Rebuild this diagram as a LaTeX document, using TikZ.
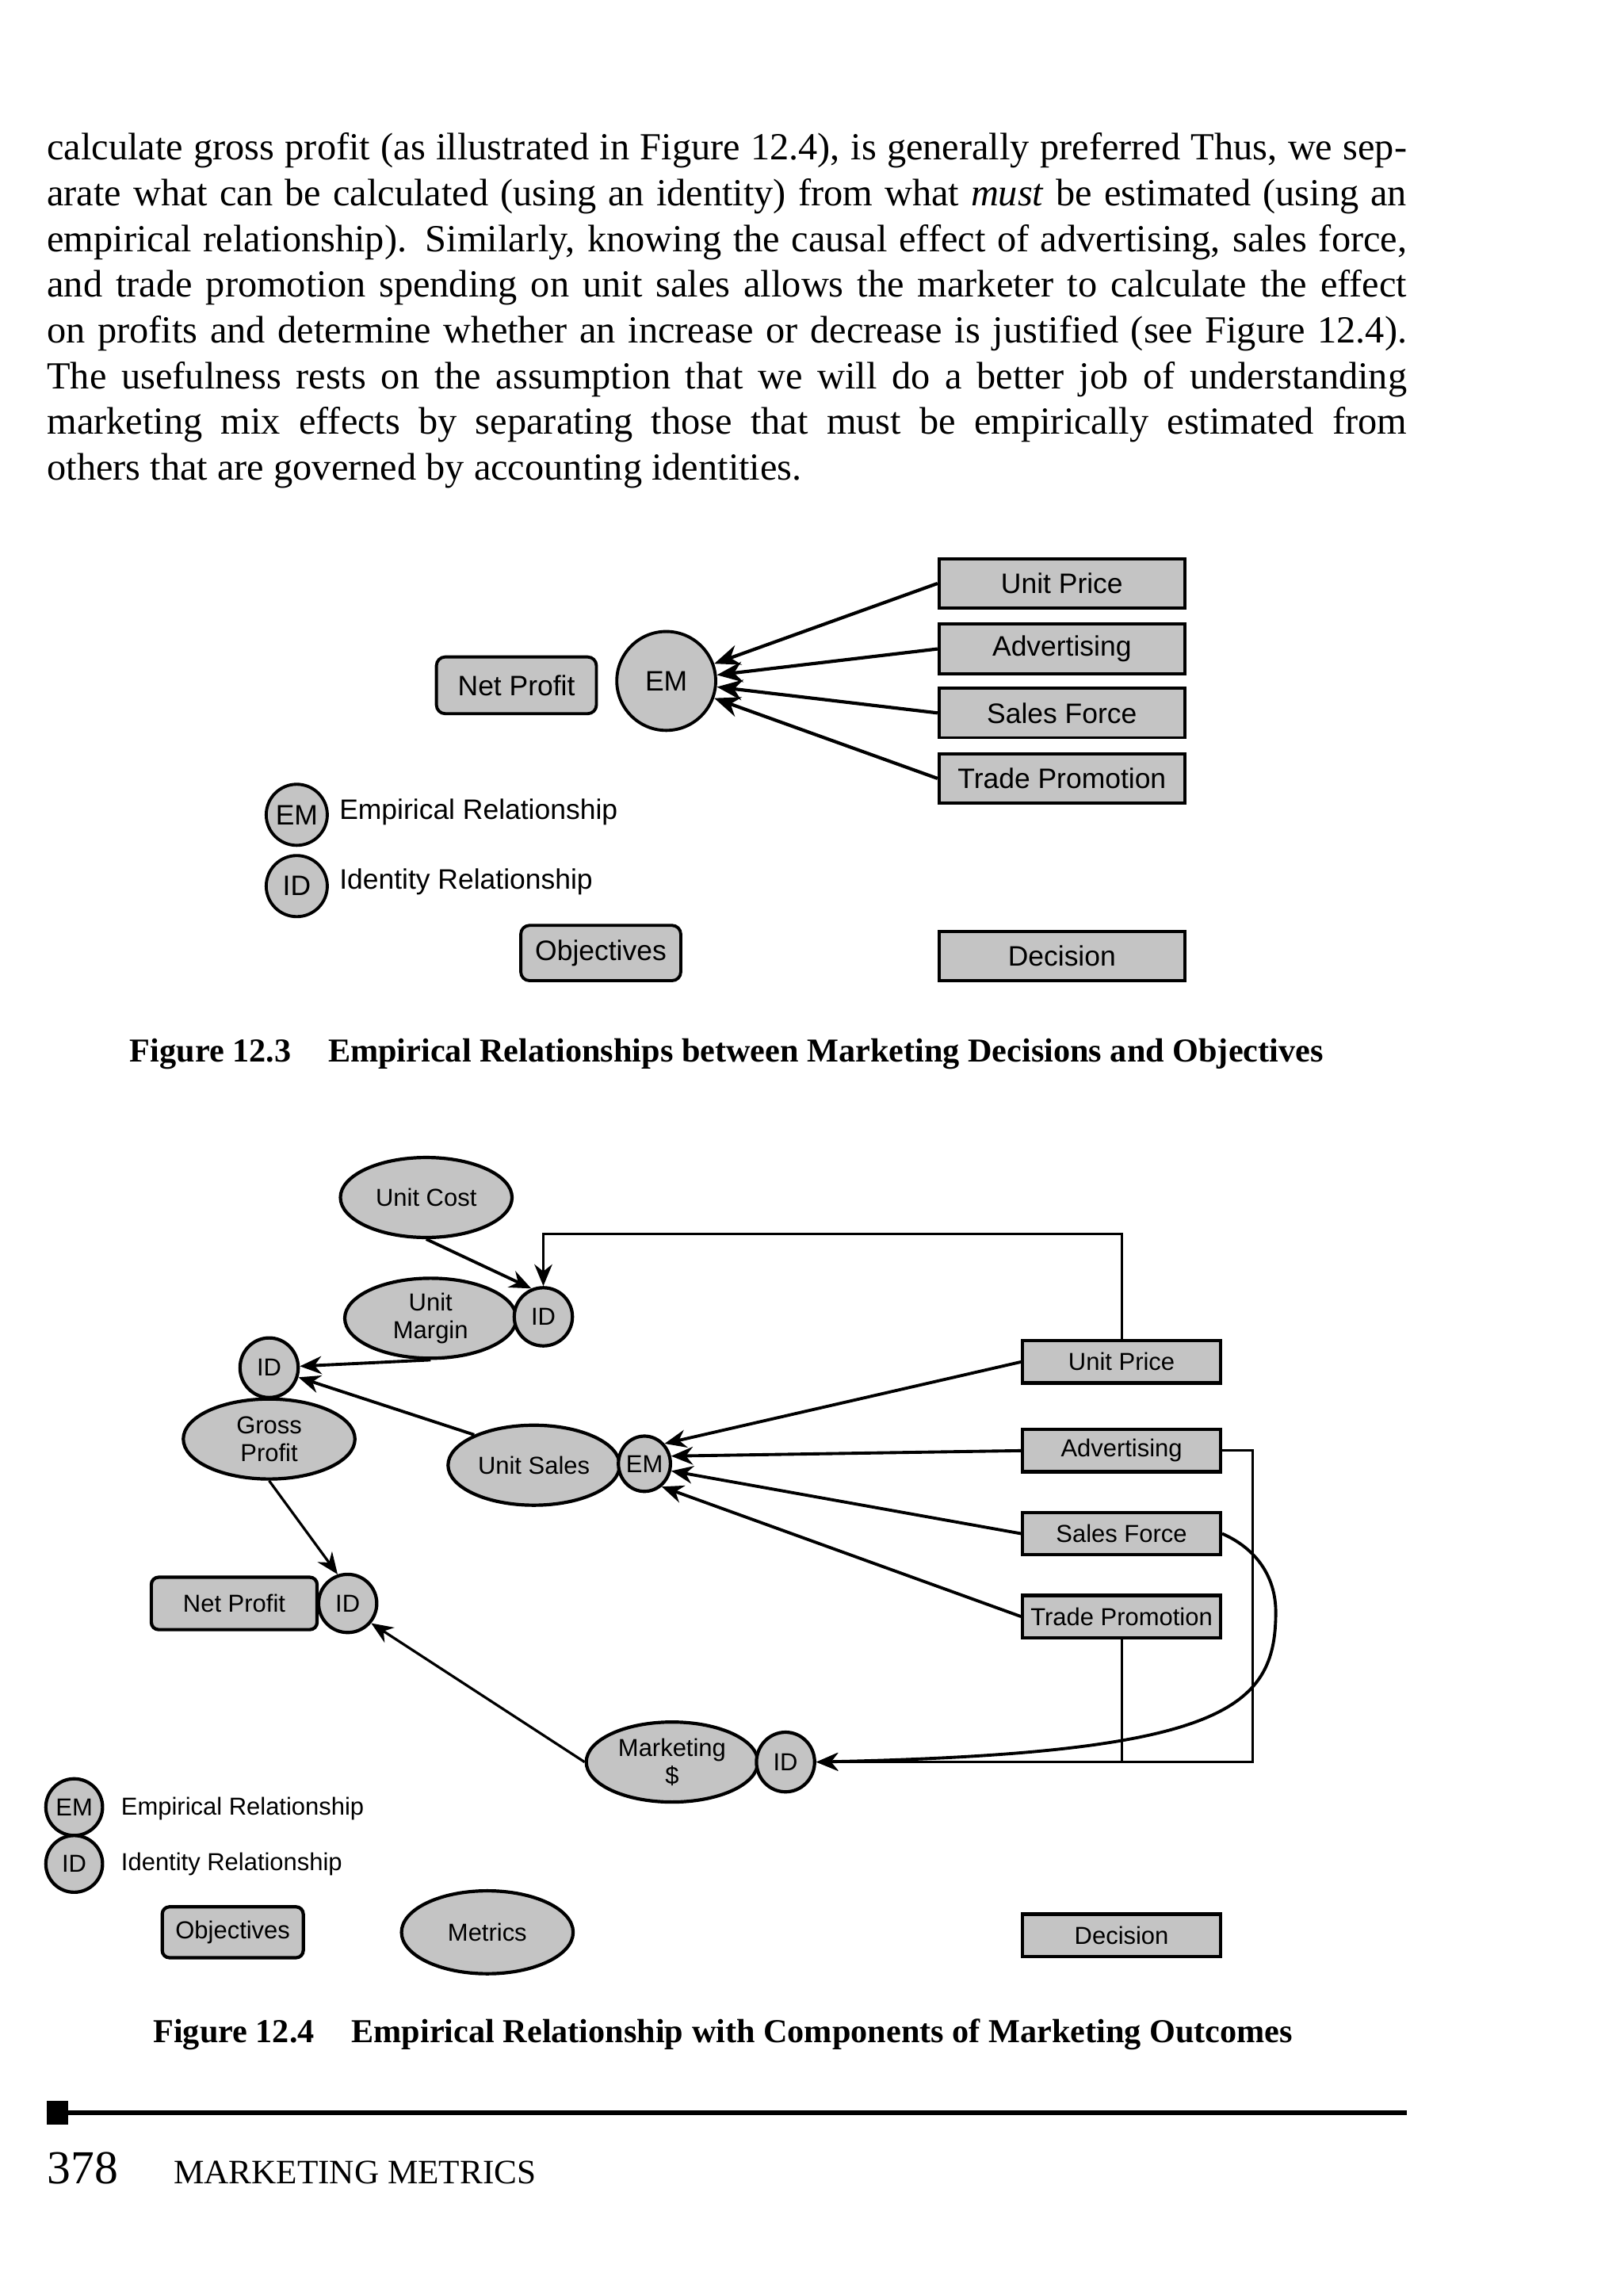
\documentclass[tikz,border=0pt]{standalone}
\usepackage{fontspec}
\setmainfont{Liberation Serif}
\newfontfamily\figfont{Liberation Sans}
\usetikzlibrary{arrows.meta}
\usetikzlibrary{positioning}
\usetikzlibrary{shapes.geometric}
\definecolor{boxgray}{gray}{0.77}
\tikzset{>={Stealth[length=10pt,width=8pt]}}
\tikzset{
    decision/.style={draw, fill=boxgray, line width=1.2pt, inner sep=0pt, minimum width=3.38cm, minimum height=0.68cm, font=\figfont\fontsize{11}{13}\selectfont},
    objective/.style={decision, rounded corners=0.12cm, minimum width=2.2cm, minimum height=0.78cm},
    relation/.style={draw, fill=boxgray, line width=1.2pt, circle, inner sep=0pt, minimum size=1.36cm, font=\figfont\fontsize{11}{13}\selectfont},
    legendtext/.style={anchor=west, inner sep=0pt, font=\figfont\fontsize{11}{13}\selectfont},
    smalldec/.style={draw, fill=boxgray, line width=1.3pt, inner sep=0pt, minimum width=2.72cm, minimum height=0.58cm, font=\figfont\fontsize{9.6}{11.5}\selectfont},
    smallobj/.style={smalldec, rounded corners=0.1cm},
    metric/.style={draw, fill=boxgray, line width=1.3pt, ellipse, inner sep=0pt, minimum width=2.36cm, minimum height=1.1cm, align=center, font=\figfont\fontsize{9.6}{11}\selectfont},
    smallrel/.style={metric, minimum width=0.8cm, minimum height=0.8cm},
    smalltext/.style={anchor=west, inner sep=0pt, font=\figfont\fontsize{9.6}{11.5}\selectfont},
    link/.style={>={Stealth[length=8.5pt,width=7pt]}, ->, line width=1.2pt},
    figcaption/.style={anchor=base west, inner sep=0pt, font=\fontsize{13.1}{16}\selectfont\bfseries},
}

\begin{document}
\begin{tikzpicture}[x=0.02cm, y=-0.02cm]
	\useasboundingbox (0,0) rectangle (1116,1567);
	\node[anchor=base west, inner sep=0pt, text width=18.7cm, align=justify, font=\fontsize{15}{17.88}\selectfont] (body) at (32,110) {\hyphenpenalty=10000 \tolerance=9999
		calculate gross profit (as illustrated in Figure 12.4), is generally preferred Thus, we sep-\linebreak
		arate what can be calculated (using an identity) from what \emph{must} be estimated (using an\linebreak
		empirical relationship). Similarly, knowing the causal effect of advertising, sales force,\linebreak
		and trade promotion spending on unit sales allows the marketer to calculate the effect\linebreak
		on profits and determine whether an increase or decrease is justified (see Figure 12.4).\linebreak
		The usefulness rests on the assumption that we will do a better job of understanding\linebreak
		marketing mix effects by separating those that must be empirically estimated from\linebreak
		others that are governed by accounting identities.};

	% Figure 12.3
	\node[decision] (price) at (730,401) {Unit Price};
	\node[decision] (adv) at (730,446) {Advertising};
	\node[decision] (force) at (730,490) {Sales Force};
	\node[decision] (promo) at (730,535) {Trade Promotion};
	\node[decision] (dec) at (730,657) {Decision};
	\node[objective] (profit) at (355,471) {Net Profit};
	\node[relation] (em) at (458,468) {EM};
	\node[relation, minimum size=0.84cm] (emkey) at (204,560) {EM};
	\node[legendtext] (emtext) at (233,558) {Empirical Relationship};
	\node[relation, minimum size=0.84cm] (idkey) at (204,609) {ID};
	\node[legendtext] (idtext) at (233,606) {Identity Relationship};
	\node[objective, minimum height=0.76cm] (obj) at (413,655) {Objectives};
	\draw[->, line width=1.3pt] (price.west) -- (em);
	\draw[->, line width=1.3pt] (adv.west) -- (em);
	\draw[->, line width=1.3pt] (force.west) -- (em);
	\draw[->, line width=1.3pt] (promo.west) -- (em);
	\node[figcaption] (cap3) at (89,730) {Figure 12.3\hspace{14.5pt}Empirical Relationships between Marketing Decisions and Objectives};

	% Figure 12.4
	\node[metric] (cost) at (293,823) {Unit Cost};
	\node[metric] (margin) at (296,906) {Unit\\Margin};
	\node[smallrel] (idmargin) at (373.5,905) {ID};
	\node[smallrel, minimum height=0.82cm] (idgross) at (185,940) {ID};
	\node[metric] (gross) at (185,989) {Gross\\Profit};
	\node[metric] (sales) at (367,1007) {Unit Sales};
	\node[smallrel, minimum width=0.7cm, minimum height=0.76cm] (emsales) at (443,1006) {EM};
	\node[smallobj, minimum width=2.28cm, minimum height=0.72cm] (net) at (161,1102) {Net Profit};
	\node[smallrel] (idnet) at (239,1102) {ID};
	\node[metric] (spend) at (462,1211) {Marketing\\\$};
	\node[smallrel, minimum height=0.82cm] (idspend) at (540,1211) {ID};
	\node[smalldec] (price2) at (771,936) {Unit Price};
	\node[smalldec] (adv2) at (771,997) {Advertising};
	\node[smalldec] (force2) at (771,1054) {Sales Force};
	\node[smalldec] (promo2) at (771,1111) {Trade Promotion};
	\node[smalldec] (dec2) at (771,1330) {Decision};
	\node[smallrel, minimum size=0.78cm] (emkey2) at (51,1242) {EM};
	\node[smalltext] (emtext2) at (83,1243) {Empirical Relationship};
	\node[smallrel, minimum size=0.78cm] (idkey2) at (51,1281) {ID};
	\node[smalltext] (idtext2) at (83,1281) {Identity Relationship};
	\node[smallobj, minimum width=1.94cm, minimum height=0.7cm] (obj2) at (160,1328) {Objectives};
	\node[metric, minimum height=1.14cm] (metrics) at (335,1328) {Metrics};
	\coordinate (loop) at (0,848);
	\coordinate (corner) at (861,1211);
	\draw[link] (cost.south) -- (idmargin.113);
	\draw[link, line width=0.9pt] (price2.north) |- (idmargin.north |- loop) -- (idmargin.north);
	\draw[link] (margin.south) -- (idgross);
	\draw[link] (sales.153) -- (idgross);
	\draw[link] (price2.west) -- (emsales.45);
	\draw[link] (adv2.west) -- (emsales.16);
	\draw[link] (force2.west) -- (emsales.-15);
	\draw[link] (promo2.west) -- (emsales.-53);
	\draw[link, line width=1pt] (gross.south) -- (idnet.109);
	\draw[link, line width=1pt] (spend.west) -- (idnet.-40);
	\draw[link, line width=1pt] (adv2.east) -| (corner) -- (idspend.east);
	\draw[line width=0.9pt] (promo2.south) -- (promo2.south |- corner);
	\draw[link] (force2.east) .. controls (865,1065) and (877,1085) .. (877,1108) .. controls (877,1175) and (840,1205) .. (idspend.east);
	\node[figcaption] (cap4) at (105,1404) {Figure 12.4\hspace{14.5pt}Empirical Relationship with Components of Marketing Outcomes};

	\fill (32,1444) rectangle (47,1460);
	\draw[line width=0.06cm] (32,1452) -- (967,1452);
	\node[anchor=base west, inner sep=0pt, font=\fontsize{18.5}{20}\selectfont] (page) at (32,1501) {378};
	\node[anchor=base west, inner sep=0pt, font=\fontsize{13.4}{15}\selectfont] (running) at (119,1501) {MARKETING METRICS};
\end{tikzpicture}
\end{document}
